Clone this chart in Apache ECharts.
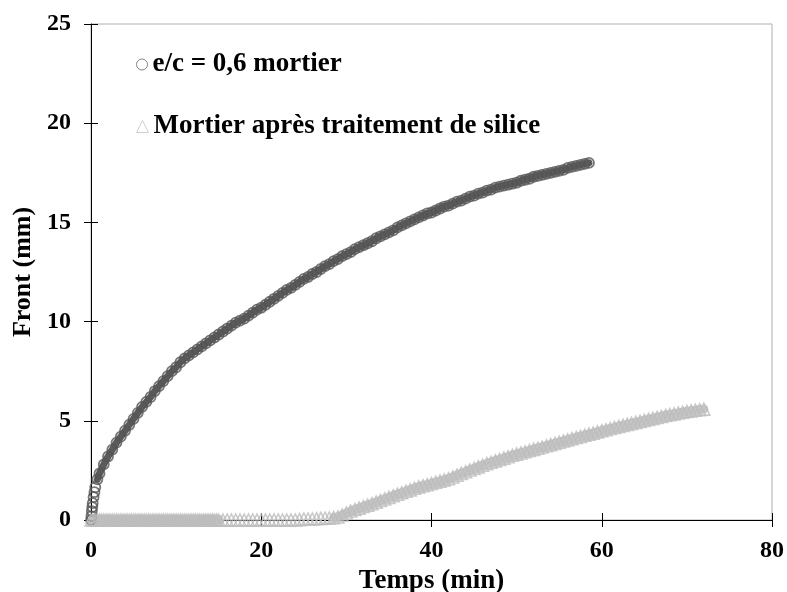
<!DOCTYPE html>
<html>
<head>
<meta charset="utf-8">
<script src="https://cdn.jsdelivr.net/npm/echarts@6/dist/echarts.min.js"></script>
<style>
html,body{margin:0;padding:0;background:#fff;}
#chart{width:787px;height:592px;}
</style>
</head>
<body>
<div id="chart"></div>
<script>
// Series 1: e/c = 0,6 mortier  [time (min), front (mm)]
var mortarData = [
[0,0],[0.05,0.2],[0.1,0.45],[0.15,0.65],[0.2,0.85],[0.3,1.15],[0.4,1.4],[0.5,1.65],[0.75,2.05],[1,2.35],
[1.5,2.8],[2,3.2],[2.5,3.55],[3,3.9],[3.5,4.2],[4,4.5],[4.5,4.8],[5,5.1],[5.5,5.4],[6,5.7],
[6.5,5.95],[7,6.2],[7.5,6.5],[8,6.75],[8.5,7.0],[9,7.25],[9.5,7.5],[10,7.7],[10.5,7.95],[11,8.15],
[11.5,8.3],[12,8.45],[12.5,8.6],[13,8.75],[13.5,8.9],[14,9.05],[14.5,9.2],[15,9.35],[15.5,9.5],[16,9.65],
[16.5,9.8],[17,9.95],[17.5,10.05],[18,10.15],[18.5,10.3],[19,10.45],[19.5,10.6],[20,10.7],[20.5,10.85],[21,11.0],
[21.5,11.15],[22,11.3],[22.5,11.45],[23,11.6],[23.5,11.7],[24,11.85],[24.5,12.0],[25,12.15],[25.5,12.25],[26,12.4],
[26.5,12.5],[27,12.65],[27.5,12.8],[28,12.9],[28.5,13.05],[29,13.15],[29.5,13.3],[30,13.4],[30.5,13.5],[31,13.65],
[31.5,13.75],[32,13.85],[32.5,13.95],[33,14.05],[33.5,14.2],[34,14.3],[34.5,14.4],[35,14.5],[35.5,14.6],[36,14.75],
[36.5,14.85],[37,14.95],[37.5,15.05],[38,15.15],[38.5,15.25],[39,15.35],[39.5,15.45],[40,15.5],[40.5,15.6],[41,15.7],
[41.5,15.8],[42,15.85],[42.5,15.95],[43,16.05],[43.5,16.1],[44,16.2],[44.5,16.3],[45,16.35],[45.5,16.45],[46,16.5],
[46.5,16.6],[47,16.65],[47.5,16.75],[48,16.8],[48.5,16.85],[49,16.9],[49.5,16.95],[50,17.0],[50.5,17.1],[51,17.15],
[51.5,17.2],[52,17.3],[52.5,17.35],[53,17.4],[53.5,17.45],[54,17.5],[54.5,17.55],[55,17.6],[55.5,17.65],[56,17.75],
[56.5,17.8],[57,17.85],[57.5,17.9],[58,17.95],[58.5,18.0]
];

// Series 2: Mortier après traitement de silice  [time (min), front (mm)]
var silicaData = [
[0,0],[0.25,0],[0.5,0],[0.75,0],[1,0],[1.25,0],[1.5,0],[1.75,0],[2,0],[2.25,0],[2.5,0],[2.75,0],
[3,0],[3.25,0],[3.5,0],[3.75,0],[4,0],[4.25,0],[4.5,0],[4.75,0],[5,0],[5.25,0],[5.5,0],[5.75,0],
[6,0],[6.25,0],[6.5,0],[6.75,0],[7,0],[7.25,0],[7.5,0],[7.75,0],[8,0],[8.25,0],[8.5,0],[8.75,0],
[9,0],[9.25,0],[9.5,0],[9.75,0],[10,0],[10.25,0],[10.5,0],[10.75,0],[11,0],[11.25,0],[11.5,0],[11.75,0],
[12,0],[12.25,0],[12.5,0],[12.75,0],[13,0],[13.25,0],[13.5,0],[13.75,0],[14,0],[14.25,0],[14.5,0],[14.75,0],[15,0],
[15.5,0],[16,0],[16.5,0],[17,0],[17.5,0],[18,0],[18.5,0],[19,0],[19.5,0],[20,0],[20.5,0],[21,0],[21.5,0],
[22,0],[22.5,0],[23,0],[23.5,0],[24,0],[24.5,0.02],[25,0.05],[25.5,0.05],[26,0.05],[26.5,0.06],[27,0.08],[27.5,0.09],
[28,0.1],[28.5,0.12],[29,0.15],[29.5,0.25],[30,0.35],[30.5,0.45],[31,0.53],[31.5,0.6],[32,0.68],[32.5,0.75],
[33,0.82],[33.5,0.9],[34,0.98],[34.5,1.06],[35,1.14],[35.5,1.22],[36,1.3],[36.5,1.37],[37,1.45],[37.5,1.52],
[38,1.6],[38.5,1.67],[39,1.73],[39.5,1.78],[40,1.84],[40.5,1.9],[41,1.96],[41.5,2.02],[42,2.08],[42.5,2.17],
[43,2.26],[43.5,2.35],[44,2.43],[44.5,2.52],[45,2.6],[45.5,2.68],[46,2.76],[46.5,2.84],[47,2.91],[47.5,2.98],
[48,3.05],[48.5,3.12],[49,3.19],[49.5,3.26],[50,3.32],[50.5,3.38],[51,3.44],[51.5,3.5],[52,3.56],[52.5,3.62],
[53,3.68],[53.5,3.74],[54,3.8],[54.5,3.86],[55,3.92],[55.5,3.98],[56,4.04],[56.5,4.1],[57,4.16],[57.5,4.21],
[58,4.27],[58.5,4.33],[59,4.38],[59.5,4.44],[60,4.5],[60.5,4.55],[61,4.61],[61.5,4.66],[62,4.72],[62.5,4.77],
[63,4.82],[63.5,4.87],[64,4.92],[64.5,4.97],[65,5.02],[65.5,5.07],[66,5.12],[66.5,5.17],[67,5.22],[67.5,5.27],
[68,5.31],[68.5,5.35],[69,5.39],[69.5,5.43],[70,5.47],[70.5,5.5],[71,5.53],[71.5,5.56],[72,5.59]
];

var seriesNames = ['e/c = 0,6 mortier', 'Mortier après traitement de silice'];
var xTitle = 'Temps (min)';
var yTitle = 'Front (mm)';
var xMin = 0, xMax = 80, xStep = 20;
var yMin = 0, yMax = 25, yStep = 5;

// the dense runs of markers merge into a solid band in the original figure
var mortarBand = mortarData.slice(8);
var silicaBandFlat = silicaData.filter(function (p) { return p[0] <= 15; });
var silicaBandRise = silicaData.filter(function (p) { return p[0] >= 28.5; });

var FONT = "'Liberation Serif', 'Times New Roman', serif";
var chart = echarts.init(document.getElementById('chart'), null, {renderer: 'canvas'});

var labelStyle = {fontFamily: FONT, fontWeight: 'bold', fontSize: 24, color: '#000'};
var legendText = {fontFamily: FONT, fontWeight: 'bold', fontSize: 27, color: '#000'};

function band(data, color, width) {
  return {type: 'line', data: data, xAxisIndex: 0, yAxisIndex: 0, symbol: 'none', showSymbol: false,
          silent: true, z: 1, lineStyle: {color: color, width: width, cap: 'round', join: 'round'}};
}

chart.setOption({
  animation: false,
  backgroundColor: '#fff',
  grid: {left: 91, right: 15, top: 24, bottom: 72, containLabel: false, outerBoundsMode: 'none',
         show: true, borderColor: '#b0b0b0', borderWidth: 1},
  legend: [
    {data: [{name: seriesNames[0], itemStyle: {color: 'rgba(0,0,0,0)', borderWidth: 1, borderColor: '#666'}}],
     left: 131, top: 46, itemWidth: 11, itemHeight: 11, itemGap: 0, textStyle: legendText},
    {data: [{name: seriesNames[1], itemStyle: {color: 'rgba(0,0,0,0)', borderWidth: 1, borderColor: '#c4c4c4'}}],
     left: 131, top: 108, itemWidth: 12, itemHeight: 12, itemGap: 0, textStyle: legendText}
  ],
  xAxis: [
    {type: 'value', min: xMin, max: xMax, interval: xStep, position: 'bottom',
     name: xTitle, nameLocation: 'middle', nameGap: 45,
     nameTextStyle: {fontFamily: FONT, fontWeight: 'bold', fontSize: 27, color: '#000'},
     axisLine: {lineStyle: {color: '#000', width: 1}},
     axisTick: {inside: false, length: 7, lineStyle: {color: '#000'}},
     axisLabel: Object.assign({margin: 19}, labelStyle),
     splitLine: {show: false}},
    {type: 'value', min: xMin, max: xMax, interval: xStep, position: 'bottom',
     axisLine: {show: false}, axisTick: {inside: true, length: 7, lineStyle: {color: '#000'}},
     axisLabel: {show: false}, splitLine: {show: false}}
  ],
  yAxis: [
    {type: 'value', min: yMin, max: yMax, interval: yStep, position: 'left',
     name: yTitle, nameLocation: 'middle', nameGap: 52, nameRotate: 90,
     nameTextStyle: {fontFamily: FONT, fontWeight: 'bold', fontSize: 26, color: '#000'},
     axisLine: {lineStyle: {color: '#000', width: 1}},
     axisTick: {inside: false, length: 7, lineStyle: {color: '#000'}},
     axisLabel: Object.assign({margin: 20}, labelStyle),
     splitLine: {show: false}},
    {type: 'value', min: yMin, max: yMax, interval: yStep, position: 'left',
     axisLine: {show: false}, axisTick: {inside: true, length: 7, lineStyle: {color: '#000'}},
     axisLabel: {show: false}, splitLine: {show: false}}
  ],
  series: [
    band(mortarBand, '#5a5a5a', 7),
    {name: seriesNames[0], type: 'scatter', xAxisIndex: 0, yAxisIndex: 0, z: 2,
     data: mortarData, symbol: 'circle', symbolSize: 10,
     itemStyle: {color: 'rgba(0,0,0,0)', borderColor: '#555555', borderWidth: 1.8}},
    band(silicaBandFlat, '#c4c4c4', 10),
    band(silicaBandRise, '#c6c6c6', 9),
    {name: seriesNames[1], type: 'scatter', xAxisIndex: 0, yAxisIndex: 0, z: 3,
     data: silicaData, symbol: 'triangle', symbolSize: 12,
     itemStyle: {color: 'rgba(0,0,0,0)', borderColor: '#bdbdbd', borderWidth: 1.6}}
  ]
});
</script>
</body>
</html>
